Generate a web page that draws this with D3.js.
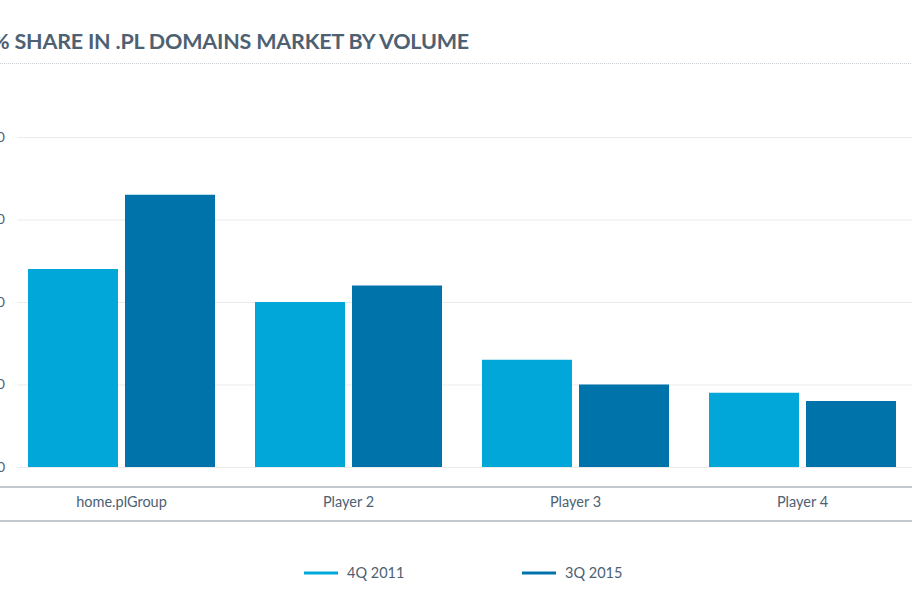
<!DOCTYPE html>
<html lang="en">
<head>
  <meta charset="UTF-8" />
  <title>% Share in .PL domains market by volume</title>
  <script src="https://cdn.jsdelivr.net/npm/d3@7"></script>
  <style>
    body { margin: 0; background: #fff; overflow: hidden; }
    svg { display: block; font-family: Lato, "Open Sans", sans-serif; }
  </style>
</head>
<body>
  <div id="chart"></div>
  <script>
  // data
  var categories = ["home.plGroup", "Player 2", "Player 3", "Player 4"];
  var seriesNames = ["4Q 2011", "3Q 2015"];
  var q4_2011 = [24, 20, 13, 9];
  var q3_2015 = [33, 22, 10, 8];
  var yTicks = [0, 10, 20, 30, 40];
  var colors = ["#00a7d8", "#0074aa"];

  var width = 912, height = 600;
  var svg = d3.select("#chart").append("svg")
    .attr("width", width)
    .attr("height", height);

  // title (left edge is cut off in the original)
  svg.append("text")
    .attr("x", -8)
    .attr("y", 49)
    .attr("font-size", "21.5px")
    .attr("font-weight", "bold")
    .attr("fill", "#4d6173")
    .style("letter-spacing", "-0.2px")
    .text("% SHARE IN .PL DOMAINS MARKET BY VOLUME");
  svg.append("line")
    .attr("x1", 0).attr("x2", width)
    .attr("y1", 63.5).attr("y2", 63.5)
    .attr("stroke", "#c9ced3")
    .attr("stroke-dasharray", "1,1");

  var x0 = d3.scaleBand()
    .domain(categories)
    .range([8, 916]);
  var x1 = d3.scaleBand()
    .domain(seriesNames)
    .range([20, x0.bandwidth() - 20])
    .paddingInner(7 / 97);
  var y = d3.scaleLinear()
    .domain([0, 40])
    .range([467, 137]);

  // grid + y labels
  var yAxis = d3.axisLeft(y)
    .tickValues(yTicks)
    .tickSize(-(width))
    .tickPadding(12);
  var gy = svg.append("g")
    .attr("transform", "translate(17,0)")
    .call(yAxis);
  gy.select(".domain").remove();
  gy.selectAll(".tick line").attr("stroke", "#ebebeb");
  gy.selectAll(".tick text")
    .attr("fill", "#4d6173")
    .attr("font-size", "14px")
    .attr("font-family", "Lato, sans-serif");

  var rows = categories.map(function(c, i) {
    return { cat: c, values: [q4_2011[i], q3_2015[i]] };
  });

  var groups = svg.selectAll(".grp")
    .data(rows)
    .enter().append("g")
    .attr("class", "grp")
    .attr("transform", function(d) { return "translate(" + x0(d.cat) + ",0)"; });

  groups.selectAll("rect")
    .data(function(d) { return d.values.map(function(v, j) { return { s: seriesNames[j], v: v, j: j }; }); })
    .enter().append("rect")
    .attr("x", function(d) { return x1(d.s); })
    .attr("y", function(d) { return y(d.v); })
    .attr("width", x1.bandwidth())
    .attr("height", function(d) { return y(0) - y(d.v); })
    .attr("fill", function(d) { return colors[d.j]; });

  // x axis band
  var xAxis = d3.axisBottom(x0).tickSize(0).tickPadding(10);
  var gx = svg.append("g")
    .attr("transform", "translate(0,487)")
    .call(xAxis);
  gx.select(".domain").remove();
  gx.selectAll(".tick text")
    .attr("fill", "#4d6173")
    .attr("font-size", "14.5px")
    .attr("font-family", "Lato, sans-serif");
  [487, 521].forEach(function(yy) {
    svg.append("line")
      .attr("x1", 0).attr("x2", width)
      .attr("y1", yy).attr("y2", yy)
      .attr("stroke", "#c3c9ce")
      .attr("stroke-width", 2);
  });

  // legend
  var legendX = [304, 522];
  var legend = svg.selectAll(".leg")
    .data(seriesNames)
    .enter().append("g")
    .attr("class", "leg")
    .attr("transform", function(d, i) { return "translate(" + legendX[i] + ",573)"; });
  legend.append("line")
    .attr("x1", 0).attr("x2", 34)
    .attr("stroke", function(d, i) { return colors[i]; })
    .attr("stroke-width", 3);
  legend.append("text")
    .attr("x", 43)
    .attr("dy", "0.35em")
    .attr("fill", "#4d6173")
    .attr("font-size", "14.5px")
    .text(function(d) { return d; });
  </script>
</body>
</html>
